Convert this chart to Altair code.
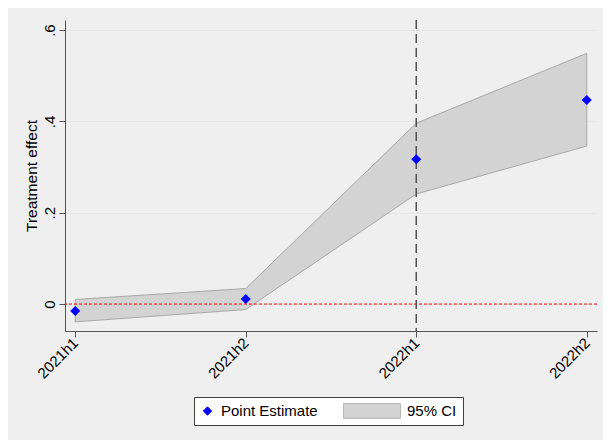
import altair as alt
import pandas as pd

periods = ["2021h1", "2021h2", "2022h1", "2022h2"]
estimate = [-0.015, 0.011, 0.317, 0.447]
ci_lower = [-0.039, -0.012, 0.241, 0.346]
ci_upper = [0.010, 0.034, 0.396, 0.549]
y_ticks = [0, 0.2, 0.4, 0.6]
event_period = "2022h1"
series = ["Point Estimate", "95% CI"]

df = pd.DataFrame({"period": periods, "est": estimate, "lo": ci_lower, "hi": ci_upper})
legend_df = pd.DataFrame({"series": series})

FONT = "Liberation Sans"
xscale = alt.Scale(domain=periods, type="point", padding=0.06)
yscale = alt.Scale(domain=[-0.059, 0.622], nice=False, zero=False)

legend = alt.Legend(
    title=None,
    orient="none",
    legendX=129,
    legendY=377,
    direction="horizontal",
    fillColor="white",
    strokeColor="#404040",
    padding=6,
    columnPadding=25,
    clipHeight=16,
    labelFont=FONT,
    labelFontSize=15,
    labelColor="black",
    labelOffset=6,
    symbolOpacity=1,
    symbolStrokeWidth=1,
)

x_axis = alt.Axis(
    title=None, labelAngle=315, labelAlign="right", labelBaseline="middle",
    labelFont=FONT, labelFontSize=15, labelColor="black", labelPadding=3,
    tickSize=6, tickColor="#555", domainColor="#555", grid=False,
)
y_axis = alt.Axis(
    title="Treatment effect", values=y_ticks, labelAngle=270,
    labelAlign="center", labelBaseline="alphabetic",
    labelExpr="datum.value == 0 ? '0' : replace(format(datum.value, '.1f'), '0.', '.')",
    labelFont=FONT, labelFontSize=15, labelColor="black", labelPadding=5,
    titleFont=FONT, titleFontSize=15.5, titleFontWeight="normal", titleColor="black", titlePadding=3,
    tickSize=6, tickColor="#555", domainColor="#555",
    grid=True, gridColor="#e6e6e6",
)

base = alt.Chart(df)

area = base.mark_area(fill="#d3d3d3", stroke="#a8a8a8", strokeWidth=1, opacity=1).encode(
    x=alt.X("period:O", scale=xscale, axis=x_axis, sort=periods),
    y=alt.Y("lo:Q", scale=yscale, axis=y_axis),
    y2="hi:Q",
)

zero_rule = alt.Chart(pd.DataFrame({"y": [0]})).mark_rule(
    color="red", strokeWidth=1, strokeDash=[3, 2]
).encode(y=alt.Y("y:Q", scale=yscale))

vline = alt.Chart(pd.DataFrame({"x": [event_period]})).mark_rule(
    color="#505050", strokeWidth=1.5, strokeDash=[9, 5]
).encode(x=alt.X("x:O", scale=xscale, sort=periods))

points = base.mark_point(shape="diamond", filled=True, size=100, opacity=1, color="blue").encode(
    x=alt.X("period:O", scale=xscale, sort=periods),
    y=alt.Y("est:Q", scale=yscale),
)

legend_layer = alt.Chart(legend_df).mark_point(filled=True, opacity=0).encode(
    color=alt.Color("series:O", sort=series,
                    scale=alt.Scale(domain=series, range=["blue", "#d3d3d3"]), legend=legend),
    stroke=alt.Stroke("series:O", sort=series,
                      scale=alt.Scale(domain=series, range=["blue", "#b8b8b8"]), legend=legend),
    shape=alt.Shape("series:O", sort=series,
                    scale=alt.Scale(domain=series, range=["diamond", "M-1,-0.26H1V0.26H-1Z"]), legend=legend),
    size=alt.Size("series:O", sort=series,
                  scale=alt.Scale(domain=series, range=[70, 3249]), legend=legend),
)

chart = alt.layer(area, zero_rule, vline, points, legend_layer).properties(
    width=532,
    height=311,
    background="#efefef",
    autosize=alt.AutoSizeParams(type="none"),
    padding={"left": 57, "top": 12, "right": 6, "bottom": 109},
).configure_view(stroke=None, fill="white")

chart.save("out.html", embed_options={"renderer": "svg", "actions": False})
